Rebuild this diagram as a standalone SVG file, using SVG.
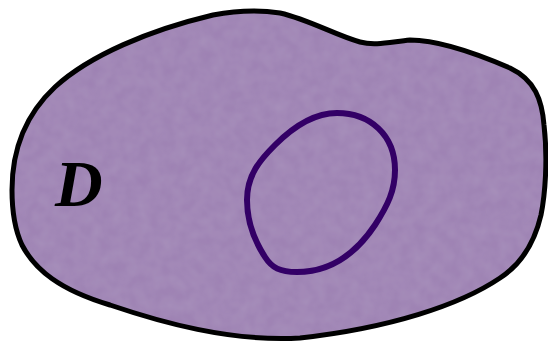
<svg xmlns="http://www.w3.org/2000/svg" width="548" height="343" viewBox="0 0 548 343">
<style>
.fill{fill:#9c80b2;stroke:none}
.edge{fill:none;stroke:#000;stroke-width:5;stroke-linejoin:round}
.loop{fill:none;stroke:#330066;stroke-width:6}
.label{font-family:"Liberation Serif",serif;font-weight:bold;font-style:italic;font-size:66px;fill:#000}
</style>
<defs>
<path id="shape" d="M12,190 C12,150 25,115 55,87 C90,55 150,30 213,15 C240,10 260,10 280,13 C310,20 335,35 360,42 C375,46 390,42 410,40 C440,40 480,55 510,68 C535,80 542,100 544,125 C548,160 545,195 541,215 C534,245 520,265 500,278 C460,305 390,328 300,338 C230,342 160,322 110,305 C60,290 35,270 22,245 C14,228 12,210 12,190 Z"/>
<filter id="tex" x="0" y="0" width="100%" height="100%">
<feTurbulence type="fractalNoise" baseFrequency="0.08" numOctaves="2" seed="3" result="n"/>
<feColorMatrix in="n" type="matrix" values="0 0 0 0 0.58  0 0 0 0 0.5  0 0 0 0 0.66  0 0 0 0.22 0" result="c"/>
<feComposite in="c" in2="SourceGraphic" operator="in" result="t"/>
<feMerge><feMergeNode in="SourceGraphic"/><feMergeNode in="t"/></feMerge>
</filter>
</defs>
<g id="regionD">
<use href="#shape" class="fill" filter="url(#tex)"/>
<use href="#shape" class="edge"/>
<text class="label" x="55" y="206">D</text>
</g>
<g id="curveC">
<path class="loop" d="M337,113 C370,113 395,135 395,170 C395,190 388,205 375,225 C355,255 330,272 297,272 C280,272 272,268 265,257 C252,237 247,220 247,200 C247,175 260,160 275,145 C295,125 315,113 337,113 Z"/>
</g>
</svg>
